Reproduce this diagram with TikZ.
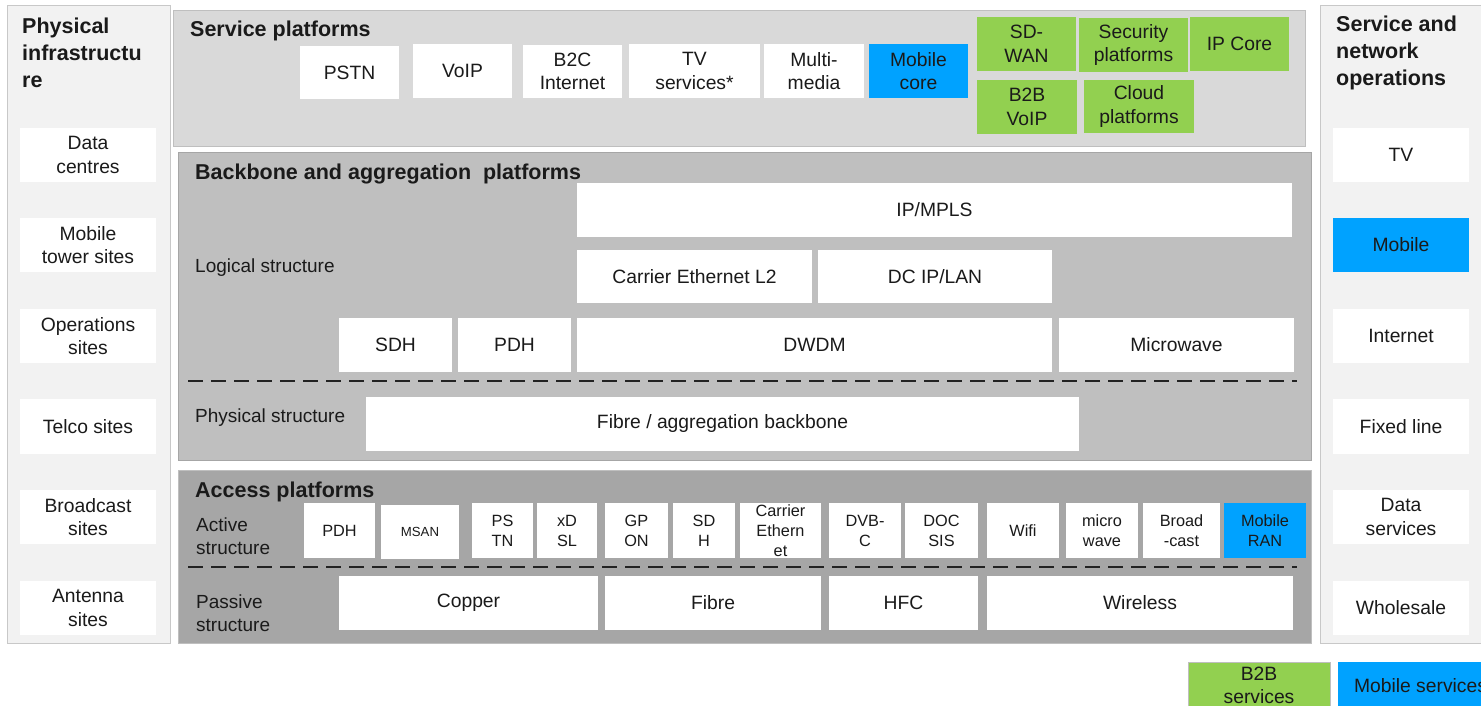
\documentclass[tikz,border=0pt]{standalone}
\usepackage{fontspec}
\setmainfont{Liberation Sans}
\definecolor{txt}{HTML}{1A1A1A}
\definecolor{panelc}{HTML}{F2F2F2}
\definecolor{panelb}{HTML}{C8C8C8}
\definecolor{svcc}{HTML}{D9D9D9}
\definecolor{bbc}{HTML}{BFBFBF}
\definecolor{acc}{HTML}{A6A6A6}
\definecolor{grn}{HTML}{92D050}
\definecolor{blu}{HTML}{00A2FF}
\definecolor{dashc}{HTML}{222222}
\newcommand\bx[7][]{\pgfmathsetmacro\bxw{#5-#3}\pgfmathsetmacro\bxh{#6-#4}%
  \node[box,minimum width=\bxw pt,minimum height=\bxh pt,#1] (#2) at ({(#3+#5)/2},{(#4+#6)/2}) {#7};}
\tikzset{
  box/.style={fill=white, draw=none, inner sep=1pt, align=center, text=txt, font=\fontsize{19.3}{23.5}\selectfont},
  bbf/.style={font=\fontsize{19.3}{23}\selectfont},
  acf/.style={font=\fontsize{16.3}{20}\selectfont},
  grnbox/.style={fill=grn},
  blubox/.style={fill=blu},
  panel/.style={fill=panelc, draw=panelb, line width=1pt},
  svcpanel/.style={fill=svcc, draw=bbc, line width=1pt},
  bbpanel/.style={fill=bbc, draw=acc, line width=0.8pt},
  accpanel/.style={fill=acc, draw=bbc, line width=0.8pt},
  lbl/.style={anchor=west, align=left, inner sep=0pt, text=txt, font=\fontsize{19}{23}\selectfont},
  ttl/.style={anchor=west, align=left, inner sep=0pt, text=txt, font=\bfseries\fontsize{21.5}{26}\selectfont},
  bigttl/.style={anchor=west, align=left, inner sep=0pt, text=txt, font=\bfseries\fontsize{21.5}{27}\selectfont},
  sepline/.style={line width=2.5pt, dash pattern=on 15pt off 8pt, draw=dashc},
}
\begin{document}
\begin{tikzpicture}[x=1pt,y=-1pt]
\useasboundingbox (0,0) rectangle (1481,705);
\clip (0,0) rectangle (1481,705);
\fill[white] (0,0) rectangle (1481,705);

% ---------- panels ----------
\bx[panel]{phys}{7}{5}{170}{643}{}
\bx[panel]{ops}{1320}{5}{1486}{643}{}
\bx[svcpanel]{svc}{173}{10}{1305}{146}{}
\bx[bbpanel]{bb}{178}{152}{1311}{460}{}
\bx[accpanel]{acc}{178}{470}{1311}{643}{}

% ---------- left panel ----------
\node[bigttl] (physttl) at (22,53) {Physical\\infrastructu\\re};
\bx{dc}{20}{128}{156}{182}{Data\\centres}
\bx{mts}{20}{218}{156}{272}{Mobile\\tower sites}
\bx{opsite}{20}{309}{156}{363}{Operations\\sites}
\bx{telco}{20}{399}{156}{454}{Telco sites}
\bx{bcs}{20}{490}{156}{544}{Broadcast\\sites}
\bx{ant}{20}{581}{156}{635}{Antenna\\sites}

% ---------- right panel ----------
\node[bigttl] (opsttl) at (1336,53) {Service and\\network\\operations};
\bx{tv}{1333}{128}{1469}{182}{TV}
\bx[blubox]{mob}{1333}{218}{1469}{272}{Mobile}
\bx{inet}{1333}{309}{1469}{363}{Internet}
\bx{fixed}{1333}{399}{1469}{454}{Fixed line}
\bx{data}{1333}{490}{1469}{544}{Data\\services}
\bx{whole}{1333}{581}{1469}{635}{Wholesale}

% ---------- service platforms ----------
\node[ttl] (svcttl) at (190,31) {Service platforms};
\bx{pstn}{300}{46}{399}{99}{PSTN}
\bx{voip}{413}{44}{512}{98}{VoIP}
\bx{b2c}{523}{45}{622}{98}{B2C\\Internet}
\bx{tvs}{629}{44}{760}{98}{TV\\services*}
\bx{mm}{764}{44}{864}{98}{Multi-\\media}
\bx[blubox]{mcore}{869}{44}{968}{98}{Mobile\\core}
\bx[grnbox]{sdwan}{977}{17}{1076}{71}{SD-\\WAN}
\bx[grnbox]{sec}{1079}{18}{1188}{72}{Security\\platforms}
\bx[grnbox]{ipcore}{1190}{17}{1289}{71}{IP Core}
\bx[grnbox]{b2bvoip}{977}{80}{1077}{134}{B2B\\VoIP}
\bx[grnbox]{cloud}{1084}{80}{1194}{133}{Cloud\\platforms}

% ---------- backbone ----------
\bx[bbf]{ipmpls}{577}{183}{1292}{237}{IP/MPLS}
\node[ttl] (bbttl) at (195,174) {Backbone and aggregation\ \ platforms};
\node[lbl] (logical) at (195,268) {Logical structure};
\bx[bbf]{ceth}{577}{250}{812}{303}{Carrier Ethernet L2}
\bx[bbf]{dcip}{818}{250}{1052}{303}{DC IP/LAN}
\bx[bbf]{sdh}{339}{318}{452}{372}{SDH}
\bx[bbf]{pdh}{458}{318}{571}{372}{PDH}
\bx[bbf]{dwdm}{577}{318}{1052}{372}{DWDM}
\bx[bbf]{micro}{1059}{318}{1294}{372}{Microwave}
\coordinate (bbdashL) at (188,381);
\coordinate (bbdashR) at (1297,381);
\draw[sepline] (bbdashL) -- (bbdashR);
\node[lbl] (physical) at (195,418) {Physical structure};
\bx[bbf]{fibreagg}{366}{397}{1079}{451}{Fibre / aggregation backbone}

% ---------- access ----------
\node[ttl] (accttl) at (195,492) {Access platforms};
\node[lbl] (active) at (196,536) {Active\\structure};
\bx[acf]{apdh}{304}{503}{375}{558}{PDH}
\bx[font=\fontsize{13.2}{16}\selectfont]{msan}{381}{505}{459}{559}{MSAN}
\bx[acf]{apstn}{472}{503}{533}{558}{PS\\TN}
\bx[acf]{xdsl}{537}{503}{597}{558}{xD\\SL}
\bx[acf]{gpon}{605}{503}{668}{558}{GP\\ON}
\bx[acf]{asdh}{673}{503}{735}{558}{SD\\H}
\bx[acf]{aceth}{740}{503}{821}{558}{Carrier\\Ethern\\et}
\bx[acf]{dvbc}{829}{503}{901}{558}{DVB-\\C}
\bx[acf]{docsis}{905}{503}{978}{558}{DOC\\SIS}
\bx[acf]{wifi}{987}{503}{1059}{558}{Wifi}
\bx[acf]{amicro}{1066}{503}{1138}{558}{micro\\wave}
\bx[acf]{bcast}{1143}{503}{1220}{558}{Broad\\-cast}
\bx[acf,blubox]{ran}{1224}{503}{1306}{558}{Mobile\\RAN}
\coordinate (acdashL) at (188,567);
\coordinate (acdashR) at (1297,567);
\draw[sepline] (acdashL) -- (acdashR);
\node[lbl] (passive) at (196,613) {Passive\\structure};
\bx[bbf]{copper}{339}{576}{598}{630}{Copper}
\bx[bbf]{fibre}{605}{576}{821}{630}{Fibre}
\bx[bbf]{hfc}{829}{576}{978}{630}{HFC}
\bx[bbf]{wireless}{987}{576}{1293}{630}{Wireless}

% ---------- legend ----------
\bx[grnbox, draw=bbc, line width=0.8pt]{legb2b}{1188}{662}{1330}{709}{B2B\\services}
\bx[blubox]{legmob}{1338}{662}{1503}{709}{Mobile services}
\end{tikzpicture}
\end{document}
